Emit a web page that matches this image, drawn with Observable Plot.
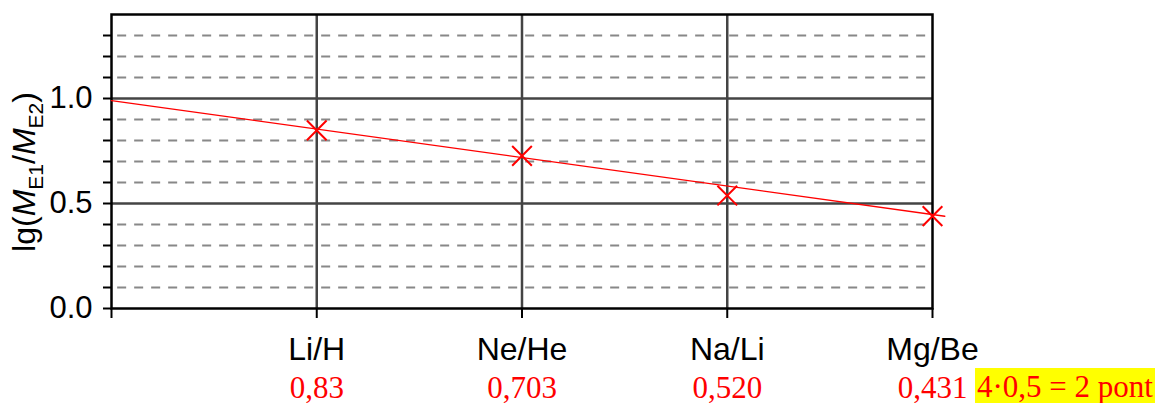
<!DOCTYPE html>
<html>
<head>
<meta charset="utf-8">
<script src="https://cdn.jsdelivr.net/npm/d3@7"></script>
<script src="https://cdn.jsdelivr.net/npm/@observablehq/plot@0.6"></script>
<style>
  html, body { margin: 0; padding: 0; background: #fff; }
  #chart { width: 1155px; height: 403px; overflow: hidden; }
</style>
</head>
<body>
<div id="chart"></div>
<script>
// ---- data ----
const pairs = ["Li/H", "Ne/He", "Na/Li", "Mg/Be"];
const pairPos = [1, 2, 3, 4];
const lgRatio = [0.848, 0.727, 0.538, 0.440];
const answerLabels = ["0,83", "0,703", "0,520", "0,431"];
const fitX = [0, 4.06];
const fitY = [0.990, 0.4395];
const yMajor = [0, 0.5, 1.0];
const yMinor = [0.1, 0.2, 0.3, 0.4, 0.6, 0.7, 0.8, 0.9, 1.1, 1.2, 1.3];
const xTicks = [0, 1, 2, 3, 4];
const scoreNote = "4·0,5 = 2 pont";

const points = pairs.map((p, i) => ({pair: p, x: pairPos[i], y: lgRatio[i], label: answerLabels[i]}));
const fit = fitX.map((x, i) => ({x, y: fitY[i]}));

const sans = "'Liberation Sans', Arial, sans-serif";
const serif = "'Liberation Serif', 'Times New Roman', serif";

const chart = Plot.plot({
  width: 1155,
  height: 403,
  marginLeft: 111,
  marginRight: 223,
  marginTop: 14,
  marginBottom: 95,
  style: {fontFamily: sans, background: "#fff", overflow: "visible"},
  x: {domain: [0, 4], axis: null},
  y: {domain: [0, 1.4], axis: null},
  marks: [
    Plot.ruleY(yMinor, {x1: 0.03, x2: 4, stroke: "#888", strokeWidth: 2, strokeDasharray: "9,8"}),
    Plot.ruleY(yMajor.filter(d => d > 0), {stroke: "#444", strokeWidth: 2.5}),
    Plot.ruleX(pairPos.slice(0, 3), {stroke: "#444", strokeWidth: 2.5}),
    Plot.frame({stroke: "#000", strokeWidth: 2.5}),
    Plot.axisY({
      ticks: [...yMajor, ...yMinor],
      tickFormat: d => yMajor.includes(d) ? d.toFixed(1) : "",
      tickSize: 8, tickPadding: 11, fontSize: 31,
      stroke: "#000", strokeWidth: 2, label: null, fill: "#000"
    }),
    Plot.axisX({
      ticks: xTicks,
      tickFormat: d => d >= 1 ? pairs[d - 1] : "",
      tickSize: 10, tickPadding: 19, fontSize: 32,
      stroke: "#000", strokeWidth: 2, label: null, fill: "#000"
    }),
    Plot.line(fit, {x: "x", y: "y", stroke: "#ff0000", strokeWidth: 1.4}),
    Plot.dot(points, {x: "x", y: "y", symbol: "times", r: 9, stroke: "#ff0000", strokeWidth: 2}),
    Plot.text(points, {
      x: "x", text: "label", frameAnchor: "bottom", lineAnchor: "bottom", dy: 89,
      fill: "#ff0000", fontFamily: serif, fontSize: 31
    })
  ]
});

document.getElementById("chart").appendChild(chart);

const svg = d3.select(chart);
const xs = chart.scale("x"), ys = chart.scale("y");

// y-axis title with italic M and subscripts
const yMid = (ys.apply(0) + ys.apply(1.4)) / 2 + 11;
const t = svg.append("text")
  .attr("transform", `translate(35,${yMid}) rotate(-90)`)
  .attr("text-anchor", "middle")
  .attr("font-family", sans)
  .attr("font-size", 32)
  .attr("fill", "#000");
t.append("tspan").text("lg(");
t.append("tspan").attr("font-style", "italic").text("M");
t.append("tspan").attr("font-size", 21).attr("dy", 8).text("E1");
t.append("tspan").attr("dy", -8).text("/");
t.append("tspan").attr("font-style", "italic").text("M");
t.append("tspan").attr("font-size", 21).attr("dy", 8).text("E2");
t.append("tspan").attr("dy", -8).text(")");

// highlighted score note
const nx = xs.apply(4) + 45;
const g = svg.append("g");
const rect = g.append("rect").attr("fill", "#ffff00");
const note = g.append("text")
  .attr("x", nx).attr("y", 397)
  .attr("text-anchor", "start")
  .attr("font-family", serif).attr("font-size", 31)
  .attr("fill", "#ff0000").text(scoreNote);
const bb = note.node().getBBox();
rect.attr("x", bb.x - 2).attr("y", 368).attr("width", bb.width + 6).attr("height", 40);
</script>
</body>
</html>
